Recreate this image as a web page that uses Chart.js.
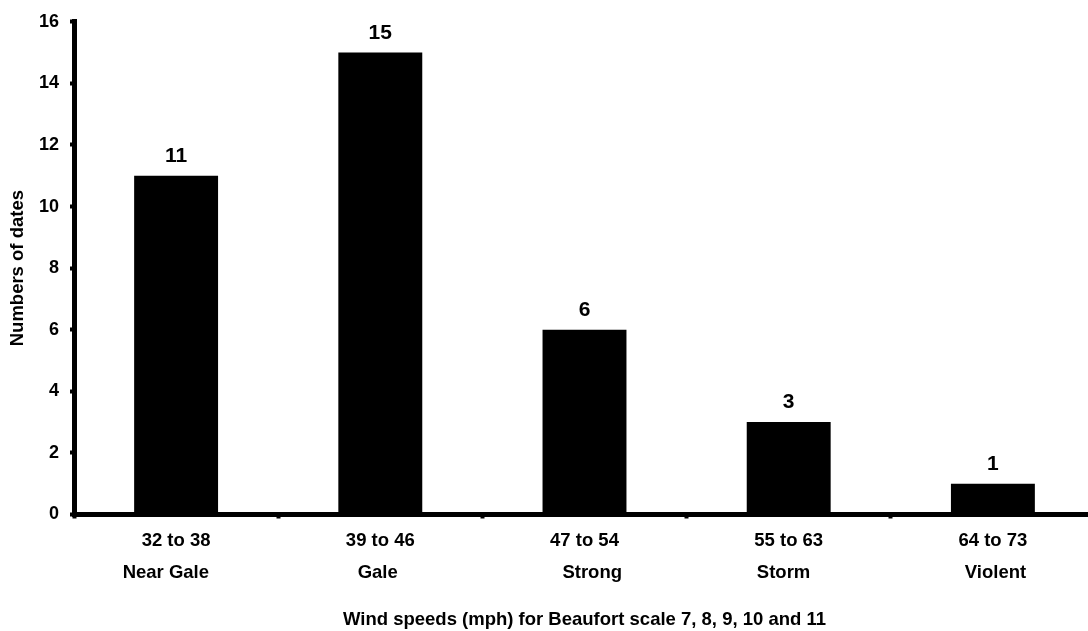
<!DOCTYPE html>
<html>
<head>
<meta charset="utf-8">
<title>Wind speeds for Beaufort scale 7 to 11</title>
<script src="https://cdn.jsdelivr.net/npm/chart.js@4.4.1/dist/chart.umd.min.js"></script>
<style>
  html, body { margin: 0; padding: 0; background: #ffffff; overflow: hidden; }
  #wrap { position: relative; width: 1095px; height: 631px; }
</style>
</head>
<body>
<div id="wrap"><canvas id="chart"></canvas></div>
<script>
// Wind speed bands (mph) and their Beaufort names
const speedRanges = ['32 to 38', '39 to 46', '47 to 54', '55 to 63', '64 to 73'];
const beaufortNames = ['Near Gale', 'Gale', 'Strong', 'Storm', 'Violent'];

// Number of dates recorded in each band
const dateCounts = [11, 15, 6, 3, 1];

// Value axis tick labels
const yTickValues = [0, 2, 4, 6, 8, 10, 12, 14, 16];

// Small horizontal nudge of the name line, in spaces (negative = left)
const nameNudge = [-4, -1, 3, -2, 1];

const FONT = 'Arial, "Liberation Sans", Helvetica, sans-serif';

function nudged(text, n) {
  return n < 0 ? text + ' '.repeat(-n) : ' '.repeat(n) + text;
}

// Bold value printed above each bar
const valueLabels = {
  id: 'valueLabels',
  afterDatasetsDraw(chart) {
    const { ctx } = chart;
    const meta = chart.getDatasetMeta(0);
    const values = chart.data.datasets[0].data;
    ctx.save();
    ctx.font = 'bold 21px ' + FONT;
    ctx.fillStyle = '#000000';
    ctx.textAlign = 'center';
    ctx.textBaseline = 'alphabetic';
    meta.data.forEach((bar, i) => {
      ctx.fillText(String(values[i]), bar.x, bar.y - 14);
    });
    ctx.restore();
  }
};

new Chart(document.getElementById('chart'), {
  type: 'bar',
  data: {
    labels: speedRanges.map((r, i) => [r, nudged(beaufortNames[i], nameNudge[i])]),
    datasets: [{
      data: dateCounts,
      backgroundColor: '#000000',
      borderWidth: 0,
      barPercentage: 0.411,
      categoryPercentage: 1
    }]
  },
  options: {
    responsive: true,
    maintainAspectRatio: false,
    animation: false,
    layout: { padding: { top: 18, left: 0, right: 0, bottom: 0 } },
    plugins: {
      legend: { display: false },
      tooltip: { enabled: false }
    },
    scales: {
      x: {
        grid: { drawOnChartArea: false, tickLength: 4, tickWidth: 4, tickColor: '#000000' },
        border: { display: true, color: '#000000', width: 5 },
        ticks: {
          color: '#000000',
          font: { family: FONT, size: 18.5, weight: 'bold', lineHeight: 32 / 18.5 },
          padding: 6.5,
          maxRotation: 0,
          autoSkip: false
        },
        title: {
          display: true,
          text: 'Wind speeds (mph) for Beaufort scale 7, 8, 9, 10 and 11',
          color: '#000000',
          font: { family: FONT, size: 18.5, weight: 'bold', lineHeight: 1.2 },
          padding: { top: 0, bottom: 0 }
        },
        afterFit(scale) { scale.height = 116.5; }
      },
      y: {
        min: 0,
        max: 16,
        afterBuildTicks(scale) { scale.ticks = yTickValues.map(v => ({ value: v })); },
        grid: { drawOnChartArea: false, tickLength: 4, tickWidth: 4, tickColor: '#000000' },
        border: { display: true, color: '#000000', width: 5 },
        ticks: {
          color: '#000000',
          font: { family: FONT, size: 18, weight: 'bold' },
          padding: 11
        },
        title: {
          display: true,
          text: 'Numbers of dates',
          color: '#000000',
          font: { family: FONT, size: 18.5, weight: 'bold', lineHeight: 1.2 },
          padding: { top: 7, bottom: 0 }
        },
        afterFit(scale) { scale.width = 74; }
      }
    }
  },
  plugins: [valueLabels]
});
</script>
</body>
</html>
